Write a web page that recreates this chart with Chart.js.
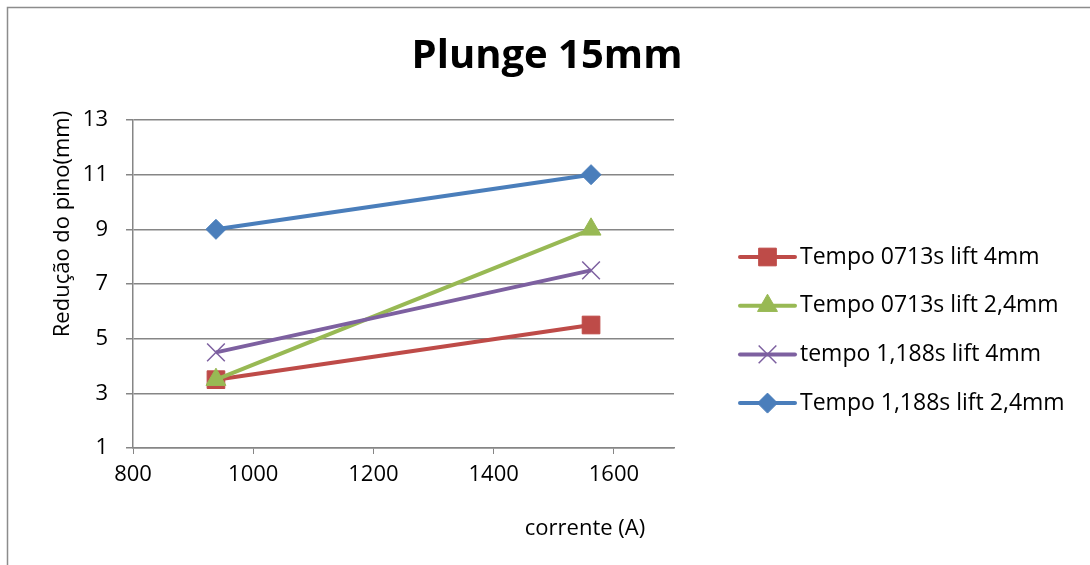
<!DOCTYPE html>
<html>
<head>
<meta charset="utf-8">
<script src="https://cdn.jsdelivr.net/npm/chart.js@4.4.0/dist/chart.umd.min.js"></script>
<style>
  html, body { margin: 0; padding: 0; background: #fff; }
  #wrap { width: 1090px; height: 565px; position: relative; }
</style>
</head>
<body>
<div id="wrap"><canvas id="chart" width="1090" height="565"></canvas></div>
<script>
// Data
const currents = [938, 1562];
const seriesNames = [
  "Tempo 0713s lift 4mm",
  "Tempo 0713s lift 2,4mm",
  "tempo 1,188s lift 4mm",
  "Tempo 1,188s lift 2,4mm"
];
const red4mm = [3.5, 5.5];
const green24mm = [3.5, 9];
const purple4mm = [4.5, 7.5];
const blue24mm = [9, 11];

const chartTitle = "Plunge 15mm";
const xTitle = "corrente (A)";
const yTitle = "Redução do pino(mm)";

const FONT = "'Open Sans', 'Noto Sans', sans-serif";
const axisGray = "#868686";

function toPoints(values) {
  return values.map((v, i) => ({ x: currents[i], y: v }));
}

// later series sit on top, like Excel
function makeSeries(label, values, color, pointStyle, radius, pointBorderWidth, order) {
  return {
    label: label,
    data: toPoints(values),
    order: order,
    borderColor: color,
    backgroundColor: color,
    borderWidth: 4,
    pointStyle: pointStyle,
    pointRadius: radius,
    pointHoverRadius: radius,
    pointBorderWidth: pointBorderWidth,
    pointBackgroundColor: color,
    pointBorderColor: color,
    fill: false,
    tension: 0
  };
}

// Frame, titles and an Excel-like legend (line + marker)
const extras = {
  id: "extras",
  beforeDraw(chart) {
    const ctx = chart.ctx;
    ctx.save();
    ctx.fillStyle = "#fff";
    ctx.fillRect(0, 0, chart.width, chart.height);
    ctx.strokeStyle = "#8c8c8c";
    ctx.lineWidth = 1.5;
    ctx.strokeRect(7.5, 7.5, 1200, 1200);
    ctx.restore();
  },
  afterDraw(chart) {
    const ctx = chart.ctx;
    ctx.save();
    ctx.fillStyle = "#000";
    ctx.textAlign = "center";
    ctx.textBaseline = "middle";

    ctx.font = "bold 40px " + FONT;
    ctx.fillText(chartTitle, 547, 57);

    ctx.font = "22px " + FONT;
    ctx.fillText(xTitle, 585, 529);

    ctx.save();
    ctx.translate(63, 224);
    ctx.rotate(-Math.PI / 2);
    ctx.fillText(yTitle, 0, 0);
    ctx.restore();

    ctx.font = "23px " + FONT;
    const x0 = 740, x1 = 795, top = 257, gap = 48.7;
    chart.data.datasets.forEach((ds, i) => {
      const y = top + i * gap;
      ctx.strokeStyle = ds.borderColor;
      ctx.lineWidth = 4;
      ctx.lineCap = "round";
      ctx.beginPath();
      ctx.moveTo(x0, y);
      ctx.lineTo(x1, y);
      ctx.stroke();
      ctx.lineCap = "butt";
      ctx.fillStyle = ds.pointBackgroundColor;
      ctx.strokeStyle = ds.pointBorderColor;
      ctx.lineWidth = ds.pointBorderWidth;
      Chart.helpers.drawPoint(ctx, {
        pointStyle: ds.pointStyle,
        radius: ds.pointRadius,
        borderWidth: ds.pointBorderWidth,
        rotation: 0
      }, (x0 + x1) / 2, y);
      ctx.fillStyle = "#000";
      ctx.textAlign = "left";
      ctx.fillText(ds.label, 800, y);
    });
    ctx.restore();
  }
};

new Chart(document.getElementById("chart"), {
  type: "line",
  data: {
    datasets: [
      makeSeries(seriesNames[0], red4mm, "#BE4B48", "rect", 12.5, 1, 4),
      makeSeries(seriesNames[1], green24mm, "#98B954", "triangle", 11.5, 1, 3),
      makeSeries(seriesNames[2], purple4mm, "#7D60A0", "crossRot", 12.5, 1.5, 2),
      makeSeries(seriesNames[3], blue24mm, "#4A7EBB", "rectRot", 10, 1, 1)
    ]
  },
  options: {
    responsive: false,
    animation: false,
    events: [],
    layout: { padding: { left: 10, right: 416, top: 120, bottom: 10 } },
    plugins: {
      legend: { display: false },
      tooltip: { enabled: false },
      title: { display: false }
    },
    scales: {
      x: {
        type: "linear",
        min: 800,
        max: 1700,
        afterFit(scale) { scale.height = 107; },
        ticks: {
          stepSize: 200,
          includeBounds: false,
          color: "#000",
          padding: 8,
          maxRotation: 0,
          font: { family: FONT, size: 22 },
          callback: (v) => String(v)
        },
        grid: {
          drawOnChartArea: false,
          drawTicks: true,
          tickLength: 6,
          color: axisGray
        },
        border: { color: axisGray, width: 1.5 }
      },
      y: {
        type: "linear",
        min: 1,
        max: 13,
        afterFit(scale) { scale.width = 123; },
        ticks: {
          stepSize: 2,
          color: "#000",
          padding: 18,
          font: { family: FONT, size: 22 }
        },
        grid: {
          color: axisGray,
          lineWidth: 1.5,
          tickLength: 7
        },
        border: { color: axisGray, width: 1.5 }
      }
    }
  },
  plugins: [extras]
});
</script>
</body>
</html>
